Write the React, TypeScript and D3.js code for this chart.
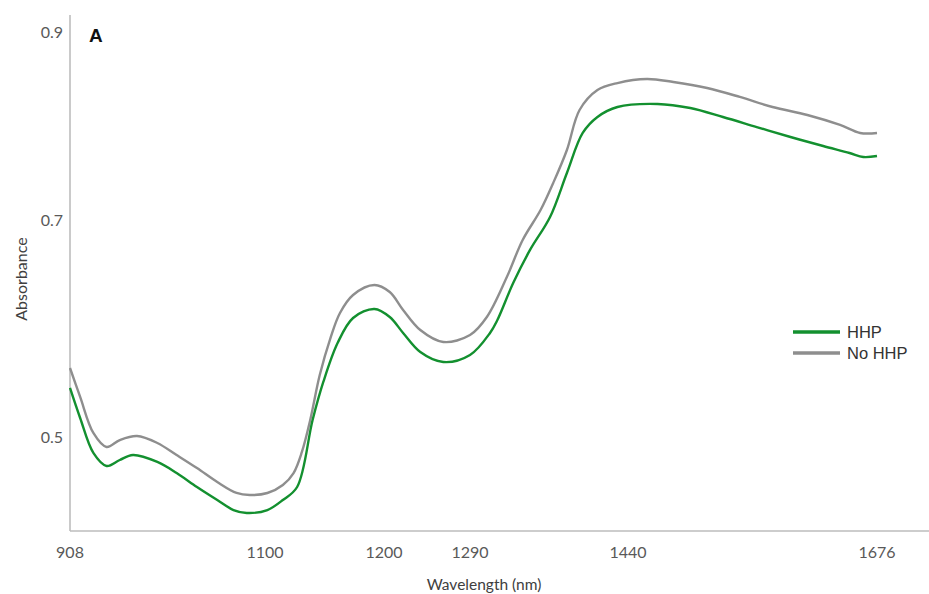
import React from 'react'
import { scaleLinear, line, curveCatmullRom } from 'd3'

// wavelength (nm) and absorbance
const wavelengthsNoHHP = [908, 918, 931, 944, 957, 974, 994, 1013, 1033, 1053, 1072, 1085, 1102, 1115, 1124, 1131, 1138, 1146, 1155, 1163, 1174, 1192, 1206, 1220, 1238, 1262, 1290, 1306, 1325, 1340, 1357, 1369, 1382, 1394, 1411, 1430, 1458, 1483, 1515, 1546, 1577, 1610, 1641, 1660, 1676]
const absorbanceNoHHP = [0.5636, 0.5369, 0.5037, 0.4908, 0.4972, 0.5009, 0.4945, 0.4834, 0.4714, 0.4585, 0.4484, 0.4465, 0.4484, 0.4558, 0.4668, 0.4862, 0.5157, 0.5571, 0.5912, 0.6143, 0.6309, 0.6401, 0.6336, 0.6171, 0.5986, 0.5876, 0.594, 0.6106, 0.6475, 0.6816, 0.7106, 0.7394, 0.7745, 0.817, 0.8383, 0.8457, 0.85, 0.8468, 0.8404, 0.8309, 0.8202, 0.8117, 0.8011, 0.7926, 0.7926]

const wavelengthsHHP = [908, 918, 931, 944, 957, 970, 994, 1013, 1033, 1053, 1069, 1082, 1102, 1115, 1127, 1140, 1149, 1161, 1174, 1192, 1206, 1220, 1238, 1262, 1290, 1309, 1316, 1331, 1347, 1366, 1382, 1397, 1411, 1430, 1468, 1499, 1530, 1562, 1594, 1625, 1650, 1663, 1676]
const absorbanceHHP = [0.5452, 0.5175, 0.4853, 0.4733, 0.4788, 0.4834, 0.477, 0.4668, 0.4539, 0.4419, 0.4327, 0.43, 0.4327, 0.4419, 0.4539, 0.5157, 0.5507, 0.5866, 0.6097, 0.618, 0.6106, 0.5959, 0.5783, 0.5691, 0.5756, 0.5959, 0.6078, 0.6419, 0.6724, 0.7032, 0.75, 0.7926, 0.8096, 0.8202, 0.8234, 0.8191, 0.8096, 0.7989, 0.7883, 0.7787, 0.7713, 0.767, 0.7681]

const xTicks = [908, 1100, 1200, 1290, 1440, 1676]
const yTicks = [0.5, 0.7, 0.9]

const seriesNames = ['HHP', 'No HHP']
const seriesColors = ['#13902f', '#8e8e8e']

const App = () => {
  const width = 929
  const height = 594
  const axisX = 70
  const axisY = 531

  // the figure's axes are not evenly spaced, so use piecewise scales
  const xScale = scaleLinear()
    .domain(xTicks)
    .range([70, 265, 384, 470, 628, 877])
  const yScale = scaleLinear()
    .domain(yTicks)
    .range([437, 220, 32])

  const lineGen = line<[number, number]>()
    .x(d => xScale(d[0]))
    .y(d => yScale(d[1]))
    .curve(curveCatmullRom.alpha(0.5))

  const hhp = lineGen(wavelengthsHHP.map((w, i) => [w, absorbanceHHP[i]]))
  const noHhp = lineGen(wavelengthsNoHHP.map((w, i) => [w, absorbanceNoHHP[i]]))

  const tickFont = 'Lato, "Open Sans", sans-serif'

  return (
    <svg width={width} height={height} style={{ position: 'absolute', left: 0, top: 0, background: '#fff' }}>
      {/* axes */}
      <line x1={axisX} x2={axisX} y1={15} y2={axisY} stroke='#bdbdbd' strokeWidth={1.6} />
      <line x1={axisX} x2={width} y1={axisY} y2={axisY} stroke='#bdbdbd' strokeWidth={1.6} />

      {yTicks.map(t => (
        <text key={t} x={63} y={yScale(t) + 5.5} textAnchor='end' fontFamily={tickFont} fontSize={16} fill='#595959'>
          {t.toFixed(1)}
        </text>
      ))}
      {xTicks.map(t => (
        <text key={t} x={xScale(t)} y={558} textAnchor='middle' fontFamily={tickFont} fontSize={16} fill='#595959'>
          {t}
        </text>
      ))}

      <text transform='translate(27,279) rotate(-90)' textAnchor='middle' fontFamily={tickFont} fontSize={16} fill='#404040'>Absorbance</text>
      <text x={484} y={590} textAnchor='middle' fontFamily={tickFont} fontSize={15.5} fill='#404040'>Wavelength (nm)</text>

      <text x={89} y={42} fontFamily='"Liberation Sans", Arial, sans-serif' fontWeight='bold' fontSize={19} fill='#111'>A</text>

      <path d={noHhp ?? ''} fill='none' stroke={seriesColors[1]} strokeWidth={2.4} strokeLinejoin='round' />
      <path d={hhp ?? ''} fill='none' stroke={seriesColors[0]} strokeWidth={2.4} strokeLinejoin='round' />

      {/* legend */}
      {seriesNames.map((name, i) => (
        <g key={name} transform={`translate(793,${332 + i * 21})`}>
          <line x1={0} x2={47} y1={0} y2={0} stroke={seriesColors[i]} strokeWidth={3.5} />
          <text x={54} y={6} fontFamily='"Liberation Sans", Arial, sans-serif' fontSize={16.5} fill='#333'>{name}</text>
        </g>
      ))}
    </svg>
  )
}

export default App
